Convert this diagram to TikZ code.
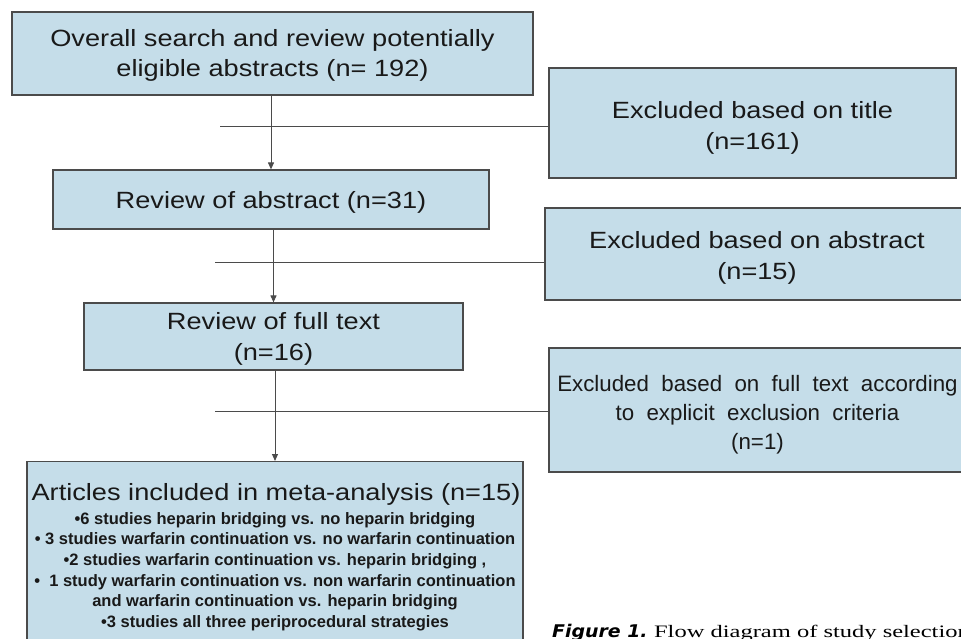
\documentclass[tikz,border=0pt]{standalone}
\usepackage{fontspec}
\setmainfont{Liberation Sans}
\newfontfamily\widesans[FakeStretch=1.157]{Liberation Sans}
\newfontfamily\capserif[FakeStretch=1.40]{Liberation Serif}
\newfontfamily\capsans[FakeStretch=1.08]{DejaVu Sans}
\usetikzlibrary{arrows.meta}
\definecolor{boxfill}{RGB}{197,221,233}
\definecolor{boxdraw}{RGB}{75,75,75}
\definecolor{txt}{RGB}{25,25,25}
\newcommand\topstrut[1]{\rule{0pt}{#1pt}}
\tikzset{
  flowbox/.style={draw=boxdraw, fill=boxfill, line width=1.2pt, inner sep=0pt,
    align=center, text=txt, font=\widesans\fontsize{23.5}{30.5}\selectfont},
  arr/.style={-{Triangle[length=7pt,width=6pt]}, line width=1pt, draw=boxdraw},
  link/.style={line width=1pt, draw=boxdraw},
  bullets/.style={inner sep=0pt, align=center, text=txt,
    font=\fontsize{16.5}{20.7}\selectfont\bfseries}
}
\begin{document}
\begin{tikzpicture}[x=1pt,y=-1pt]
\useasboundingbox (0,0) rectangle (961,639);
% main column
\node[flowbox, minimum width=521pt, minimum height=83pt] (b1) at (272.5,53.5)
  {\topstrut{21}Overall search and review potentially\\eligible abstracts (n= 192)};
\node[flowbox, minimum width=436pt, minimum height=59pt] (b2) at (271,199.5)
  {\topstrut{23}Review of abstract (n=31)};
\node[flowbox, minimum width=379pt, minimum height=67pt] (b3) at (273.5,336.5)
  {\topstrut{22}Review of full text\\(n=16)};
\node[flowbox, minimum width=496pt, minimum height=200pt, anchor=north] (b4) at (275,461) {};
\node[inner sep=0pt, text=txt, font=\widesans\fontsize{23.5}{26}\selectfont, anchor=base] (b4title) at (276,500)
  {Articles included in meta-analysis (n=15)};
\node[bullets, anchor=north] (b4list) at (275,512)
  {\textbullet6 studies heparin bridging vs. no heparin bridging\\
   \textbullet\ 3 studies warfarin continuation vs. no warfarin continuation\\
   \textbullet2 studies warfarin continuation vs. heparin bridging ,\\
   \textbullet\ \ 1 study warfarin continuation vs. non warfarin continuation\\
   and warfarin continuation vs. heparin bridging\\
   \textbullet3 studies all three periprocedural strategies};
% excluded boxes
\node[flowbox, minimum width=407pt, minimum height=110pt] (e1) at (752.5,123)
  {\topstrut{27}Excluded based on title\\(n=161)};
\node[flowbox, minimum width=424pt, minimum height=92pt] (e2) at (757,254)
  {\topstrut{25}Excluded based on abstract\\(n=15)};
\node[flowbox, minimum width=417pt, minimum height=124pt, font=\fontsize{22.3}{29}\selectfont] (e3) at (757.5,410)
  {\topstrut{25}Excluded\ \ based\ \ on\ \ full\ \ text\ \ according\\to\ \ explicit\ \ exclusion\ \ criteria\\(n=1)};
% arrows
\draw[arr] (b2.north |- b1.south) -- (b2.north);
\draw[arr] (b3.north |- b2.south) -- (b3.north);
\draw[arr] (b4.north |- b3.south) -- (b4.north);
% side links
\coordinate (h1) at (220,127);
\coordinate (h2) at (215,262);
\coordinate (h3) at (215,411);
\draw[link] (h1) -- (h1 -| e1.west);
\draw[link] (h2) -- (h2 -| e2.west);
\draw[link] (h3) -- (h3 -| e3.west);
% caption
\node[inner sep=0pt, anchor=base west, text=black, font=\fontsize{17.5}{20}\selectfont] (cap) at (552,637)
  {{\capsans\bfseries\itshape Figure 1.} {\capserif Flow diagram of study selection}};
\end{tikzpicture}
\end{document}
